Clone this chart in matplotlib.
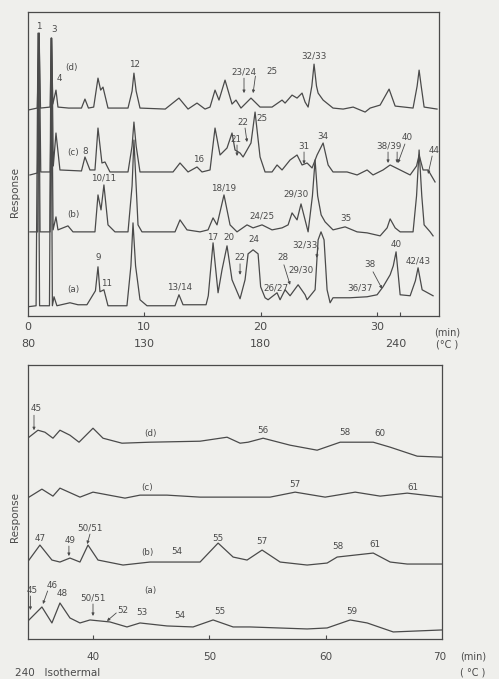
import matplotlib
matplotlib.use("Agg")
import matplotlib.pyplot as plt

# ---- upper chromatograms (temperature programmed, 0-35 min) ----
# (time in min, response in arbitrary units)
upper_d = [(0.0, 206), (0.80, 208), (0.95, 283), (1.08, 208), (1.90, 209), (2.02, 278),
           (2.14, 212), (2.41, 226), (2.58, 209), (3.50, 208), (4.60, 208), (4.90, 217),
           (5.20, 208), (5.65, 209), (6.02, 238), (6.25, 226), (6.45, 229), (6.88, 208),
           (8.60, 208), (8.95, 225), (9.11, 243), (9.30, 225), (9.63, 208), (11.80, 207),
           (12.98, 218), (13.76, 207), (14.53, 213), (15.22, 207), (15.65, 209), (16.08, 226),
           (16.42, 216), (16.94, 236), (17.54, 212), (17.88, 216), (18.31, 208), (19.17, 218),
           (19.95, 209), (20.98, 209), (21.84, 216), (22.10, 213), (22.70, 221), (23.13, 218),
           (23.56, 223), (23.82, 214), (24.08, 209), (24.40, 230), (24.59, 252), (24.80, 230),
           (24.94, 223), (25.37, 216), (26.22, 208), (27.09, 207), (27.95, 209), (28.98, 204),
           (29.41, 208), (30.27, 211), (31.04, 227), (31.56, 210), (33.10, 208), (33.45, 230),
           (33.62, 246), (33.80, 230), (34.05, 209), (35.16, 207)]
upper_c = [(0.17, 141), (0.82, 143), (0.97, 283), (1.10, 144), (1.92, 144), (2.05, 278),
           (2.18, 150), (2.41, 183), (2.75, 146), (4.60, 145), (4.90, 159), (5.33, 146),
           (5.76, 146), (6.02, 188), (6.36, 153), (6.62, 154), (7.05, 144), (8.60, 144),
           (8.95, 170), (9.11, 194), (9.30, 170), (9.63, 144), (12.47, 144), (13.07, 153),
           (13.76, 144), (14.53, 149), (14.96, 144), (15.65, 146), (16.08, 188), (16.51, 161),
           (17.11, 168), (17.54, 183), (17.80, 166), (18.23, 163), (18.49, 159), (19.17, 173),
           (19.52, 204), (19.95, 159), (20.38, 144), (20.98, 144), (21.41, 151), (21.84, 146),
           (22.53, 156), (23.13, 161), (23.56, 151), (23.99, 153), (24.42, 148), (24.85, 161),
           (25.37, 173), (25.80, 151), (26.22, 144), (27.43, 144), (28.29, 141), (29.15, 146),
           (29.66, 141), (30.52, 146), (31.13, 151), (31.99, 146), (32.85, 141), (33.40, 150),
           (33.62, 161), (33.96, 146), (34.39, 146), (34.99, 134)]
upper_b = [(0.17, 84), (0.84, 84), (0.93, 283), (1.04, 84), (1.90, 84), (2.02, 278),
           (2.16, 86), (2.41, 99), (2.58, 86), (3.44, 90), (3.87, 84), (5.76, 84), (6.02, 121),
           (6.28, 106), (6.53, 131), (6.88, 91), (7.48, 84), (8.60, 84), (8.95, 130),
           (9.11, 176), (9.30, 130), (9.46, 91), (9.80, 84), (12.64, 84), (13.07, 96),
           (13.67, 86), (14.79, 84), (15.48, 86), (15.91, 98), (16.25, 91), (16.85, 121),
           (17.37, 91), (17.97, 84), (18.83, 91), (19.35, 88), (20.12, 91), (20.98, 86),
           (21.84, 88), (22.36, 91), (22.70, 103), (23.13, 96), (23.47, 112), (24.08, 84),
           (24.45, 120), (24.68, 156), (24.90, 120), (25.20, 101), (25.54, 94), (26.22, 86),
           (27.26, 89), (28.29, 84), (29.15, 83), (30.27, 80), (30.87, 88), (31.13, 97),
           (31.56, 88), (31.99, 84), (33.10, 84), (33.40, 120), (33.62, 166), (33.85, 120),
           (34.05, 91), (34.57, 84), (34.82, 80)]
upper_a = [(0.0, 9), (0.70, 10), (0.86, 283), (1.00, 10), (1.85, 10), (1.98, 278),
           (2.10, 10), (2.24, 19), (2.49, 10), (3.61, 13), (4.30, 11), (5.07, 11), (5.80, 25),
           (6.02, 49), (6.19, 24), (6.53, 26), (6.88, 10), (8.51, 10), (8.85, 50), (9.03, 93),
           (9.25, 50), (9.63, 16), (10.23, 10), (12.64, 10), (12.98, 21), (13.33, 11),
           (15.31, 11), (15.50, 20), (15.91, 73), (16.34, 23), (16.68, 46), (17.11, 70),
           (17.54, 36), (18.23, 17), (18.66, 36), (18.92, 62), (19.35, 66), (19.78, 62),
           (20.00, 29), (20.38, 18), (20.64, 16), (21.41, 23), (21.67, 16), (22.10, 26),
           (22.53, 20), (23.22, 31), (23.82, 21), (23.99, 16), (24.68, 26), (24.94, 76),
           (25.19, 84), (25.45, 76), (25.71, 26), (25.97, 13), (26.22, 18), (27.69, 18),
           (29.15, 19), (30.01, 21), (30.52, 29), (31.13, 41), (31.40, 50), (31.64, 64),
           (31.99, 21), (32.85, 20), (33.30, 35), (33.53, 48), (33.88, 26), (34.82, 20)]

# ---- lower chromatograms (isothermal, 35-70 min) ----
lower_d = [(34.50, 202), (35.27, 209), (35.87, 207), (36.56, 201), (37.16, 209), (38.02, 204),
           (38.80, 197), (40.00, 211), (40.86, 201), (42.49, 196), (44.90, 197), (49.20, 198),
           (51.52, 202), (52.64, 196), (53.33, 197), (54.62, 201), (56.94, 194), (59.26, 189),
           (61.24, 197), (64.08, 197), (65.54, 192), (67.86, 183), (70.00, 182)]
lower_c = [(34.50, 142), (35.61, 150), (36.56, 143), (37.16, 151), (38.88, 142), (40.00, 147),
           (42.75, 141), (44.04, 144), (46.36, 144), (49.20, 142), (52.64, 142), (55.22, 142),
           (57.37, 147), (59.95, 142), (62.53, 147), (64.68, 143), (67.00, 146), (70.00, 142)]
lower_b = [(34.50, 79), (35.44, 94), (36.47, 79), (37.16, 77), (38.02, 81), (38.88, 77),
           (39.57, 94), (40.43, 79), (42.58, 74), (44.90, 77), (49.20, 77), (50.75, 96),
           (52.04, 82), (53.24, 79), (54.53, 89), (56.08, 77), (58.40, 74), (60.12, 76),
           (60.98, 82), (64.08, 86), (65.54, 77), (67.00, 75), (70.00, 75)]
lower_a = [(34.50, 19), (35.61, 32), (36.47, 16), (37.16, 36), (38.02, 21), (38.88, 16),
           (39.74, 19), (41.46, 17), (42.92, 12), (44.04, 16), (46.36, 13), (48.60, 12),
           (50.32, 19), (52.04, 12), (53.50, 12), (58.40, 10), (60.12, 11), (62.10, 19),
           (63.56, 16), (65.80, 7), (70.00, 9)]

# peak labels: (text, t, response, arrow from, arrow to)
upper_labels = [
    ("1", 0.95, 290, None, None), ("3", 2.24, 287, None, None),
    ("4", 2.67, 238, None, None), ("(d)", 3.78, 249, None, None),
    ("12", 9.2, 252, None, None),
    ("23/24", 18.57, 244, (18.57, 238), (18.57, 223)),
    ("25", 20.98, 245, (19.55, 240), (19.35, 223)),
    ("32/33", 24.59, 260, None, None),
    ("(c)", 3.87, 163, None, None), ("8", 4.90, 164, None, None),
    ("16", 14.70, 156, None, None),
    ("22", 18.49, 194, (18.66, 188), (18.83, 174)),
    ("21", 17.88, 177, (17.97, 171), (17.97, 160)),
    ("25", 20.12, 198, None, None),
    ("31", 23.73, 170, (23.73, 164), (23.73, 152)),
    ("34", 25.37, 180, None, None),
    ("38/39", 31.04, 170, (30.95, 164), (30.95, 153)),
    ("", 31.04, 170, (31.73, 164), (31.73, 153)),
    ("40", 32.59, 179, (32.40, 172), (31.80, 153)),
    ("44", 34.91, 166, (34.74, 160), (34.39, 142)),
    ("10/11", 6.53, 138, None, None), ("(b)", 3.87, 101, None, None),
    ("18/19", 16.85, 128, None, None), ("24/25", 20.12, 100, None, None),
    ("29/30", 23.04, 122, None, None), ("35", 27.34, 97, None, None),
    ("9", 6.02, 58, None, None), ("11", 6.79, 32, None, None),
    ("(a)", 3.87, 26, None, None), ("13/14", 13.07, 29, None, None),
    ("17", 15.91, 78, None, None), ("20", 17.28, 78, None, None),
    ("22", 18.23, 58, (18.23, 52), (18.23, 41)),
    ("24", 19.43, 76, None, None),
    ("28", 21.93, 58, (22.00, 51), (22.53, 31)),
    ("26/27", 21.32, 28, None, None),
    ("29/30", 23.47, 46, None, None),
    ("32/33", 23.82, 71, (24.94, 68), (24.80, 58)),
    ("36/37", 28.55, 28, None, None),
    ("38", 29.41, 51, (29.66, 44), (30.44, 27)),
    ("40", 31.64, 71, None, None), ("42/43", 33.53, 55, None, None),
]
lower_labels = [
    ("45", 35.10, 231, (34.93, 224), (34.93, 209)),
    ("(d)", 44.90, 206, None, None), ("56", 54.62, 209, None, None),
    ("58", 61.67, 207, None, None), ("60", 64.68, 206, None, None),
    ("(c)", 44.64, 152, None, None), ("57", 57.37, 155, None, None),
    ("61", 67.52, 152, None, None),
    ("47", 35.44, 101, None, None),
    ("49", 38.02, 99, (37.93, 93), (37.93, 83)),
    ("50/51", 39.74, 111, (39.74, 105), (39.50, 95)),
    ("(b)", 44.64, 87, None, None), ("54", 47.22, 88, None, None),
    ("55", 50.75, 101, None, None), ("57", 54.53, 98, None, None),
    ("58", 61.07, 93, None, None), ("61", 64.25, 95, None, None),
    ("46", 36.47, 54, (36.10, 48), (35.70, 35)),
    ("45", 34.76, 49, (34.62, 43), (34.62, 29)),
    ("48", 37.33, 45, None, None), ("(a)", 44.90, 49, None, None),
    ("50/51", 40.0, 41, (40.0, 35), (40.0, 23)),
    ("52", 42.58, 28, (42.00, 26), (41.20, 18)),
    ("53", 44.21, 26, None, None), ("54", 47.48, 23, None, None),
    ("55", 50.92, 27, None, None), ("59", 62.27, 27, None, None),
]

paper = "#efefec"
ink = "#4a4a4a"

fig = plt.figure(figsize=(4.99, 6.79), dpi=100)
fig.patch.set_facecolor(paper)

ax_top = fig.add_axes([0.056, 0.535, 0.824, 0.447])
ax_bot = fig.add_axes([0.056, 0.059, 0.830, 0.403])

for ax, traces, labels in ((ax_top, (upper_a, upper_b, upper_c, upper_d), upper_labels),
                           (ax_bot, (lower_a, lower_b, lower_c, lower_d), lower_labels)):
    ax.set_facecolor(paper)
    for tr in traces:
        ts, rs = zip(*tr)
        ax.plot(ts, rs, color=ink, lw=0.9, solid_joinstyle="round")
    for text, t, r, a0, a1 in labels:
        if text:
            ax.text(t, r, text, fontsize=6.3, color=ink, ha="center", va="center")
        if a0 is not None:
            ax.annotate("", xy=a1, xytext=a0,
                        arrowprops=dict(arrowstyle="-|>", lw=0.6, color=ink,
                                        mutation_scale=4, shrinkA=0, shrinkB=0))
    for s in ax.spines.values():
        s.set_color(ink)
        s.set_linewidth(0.9)
    ax.set_yticks([])
    ax.tick_params(axis="x", direction="in", length=3, color=ink, labelbottom=False)

ax_top.set_xlim(0, 35.34)
ax_top.set_ylim(0, 304)
ax_top.set_xticks([10, 20, 30, 32])
ax_bot.set_xlim(34.41, 70.0)
ax_bot.set_ylim(0, 274)
ax_bot.set_xticks([40, 50, 60])

tf = ax_top.get_xaxis_transform()
for t, s in ((0, "0"), (10, "10"), (20, "20"), (30, "30")):
    ax_top.text(t, -0.036, s, transform=tf, fontsize=8, color=ink, ha="center", va="center")
for t, s in ((0, "80"), (10, "130"), (20, "180"), (31.6, "240")):
    ax_top.text(t, -0.092, s, transform=tf, fontsize=8, color=ink, ha="center", va="center")
ax_top.text(36.03, -0.056, "(min)", transform=tf, fontsize=7, color=ink, ha="center", va="center")
ax_top.text(36.03, -0.095, "(°C )", transform=tf, fontsize=7, color=ink, ha="center", va="center")

bf = ax_bot.get_xaxis_transform()
for t, s in ((40, "40"), (50, "50"), (60, "60"), (69.8, "70")):
    ax_bot.text(t, -0.066, s, transform=bf, fontsize=7.5, color=ink, ha="center", va="center")
ax_bot.text(72.67, -0.066, "(min)", transform=bf, fontsize=7, color=ink, ha="center", va="center")
ax_bot.text(72.67, -0.124, "( °C )", transform=bf, fontsize=7, color=ink, ha="center", va="center")
ax_bot.text(33.29, -0.124, "240   Isothermal", transform=bf, fontsize=7.5, color=ink,
            ha="left", va="center")

fig.text(0.030, 0.717, "Response", rotation=90, fontsize=7.5, color=ink, ha="center", va="center")
fig.text(0.030, 0.239, "Response", rotation=90, fontsize=7.5, color=ink, ha="center", va="center")

fig.savefig("out.png", dpi=100, facecolor=paper)
